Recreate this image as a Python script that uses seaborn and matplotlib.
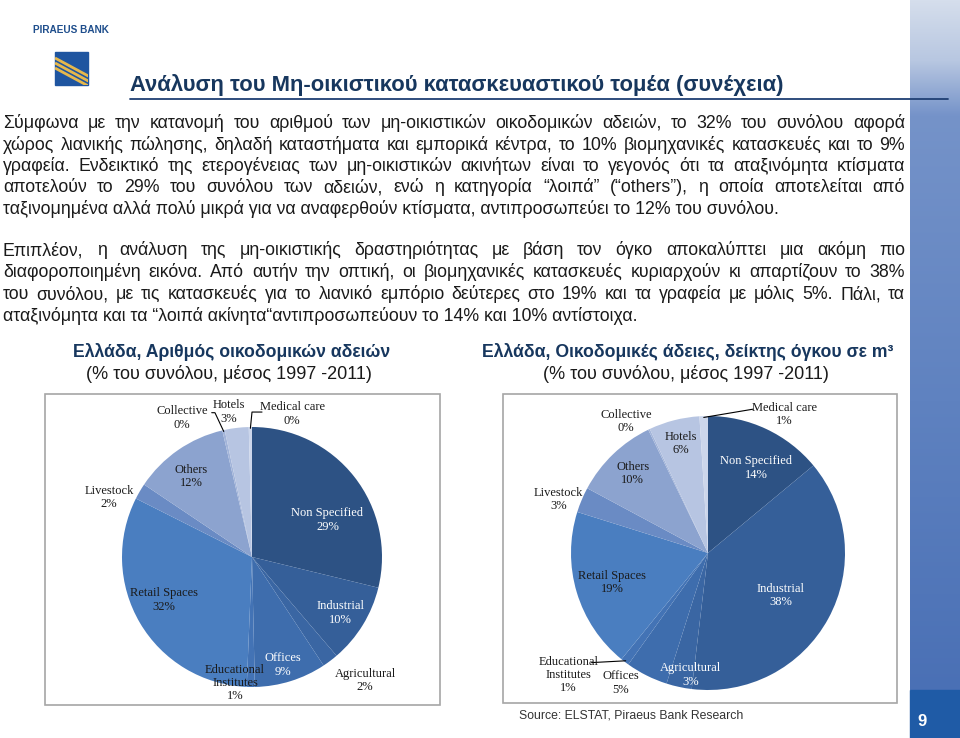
import numpy as np
import matplotlib
matplotlib.use("Agg")
import matplotlib.pyplot as plt
import matplotlib.colors as mcolors
from matplotlib.patches import Rectangle
import seaborn as sns

# ---- data ----
categories = ["Non Specified", "Industrial", "Agricultural", "Offices",
              "Educational\nInstitutes", "Retail Spaces", "Livestock",
              "Others", "Collective", "Hotels", "Medical care"]
permits_share = [29, 10, 2, 9, 1, 32, 2, 12, 0.3, 3, 0.4]   # number of permits, %
volume_share = [14, 38, 3, 5, 1, 19, 3, 10, 0.2, 6, 1]      # volume in m3, %

slice_colors = ["#2D5284", "#355F99", "#3A66A3", "#3E6DAD", "#4373B5",
                "#4A7EC0", "#6A8BC4", "#8CA3CF", "#A2B4D9", "#B7C5E2", "#CCD6EB"]

title = "Ανάλυση του Μη-οικιστικού κατασκευαστικού τομέα (συνέχεια)"
para1 = [
    "Σύμφωνα με την κατανομή του αριθμού των μη-οικιστικών οικοδομικών αδειών, το 32% του συνόλου αφορά",
    "χώρος λιανικής πώλησης, δηλαδή καταστήματα και εμπορικά κέντρα, το 10% βιομηχανικές κατασκευές και το 9%",
    "γραφεία. Ενδεικτικό της ετερογένειας των μη-οικιστικών ακινήτων είναι το γεγονός ότι τα αταξινόμητα κτίσματα",
    "αποτελούν το 29% του συνόλου των αδειών, ενώ η κατηγορία “λοιπά” (“others”), η οποία αποτελείται από",
    "ταξινομημένα αλλά πολύ μικρά για να αναφερθούν κτίσματα, αντιπροσωπεύει το 12% του συνόλου.",
]
para2 = [
    "Επιπλέον, η ανάλυση της μη-οικιστικής δραστηριότητας με βάση τον όγκο αποκαλύπτει μια ακόμη πιο",
    "διαφοροποιημένη εικόνα. Από αυτήν την οπτική, οι βιομηχανικές κατασκευές κυριαρχούν κι απαρτίζουν το 38%",
    "του συνόλου, με τις κατασκευές για το λιανικό εμπόριο δεύτερες στο 19% και τα γραφεία με μόλις 5%. Πάλι, τα",
    "αταξινόμητα και τα “λοιπά ακίνητα“αντιπροσωπεύουν το 14% και 10% αντίστοιχα.",
]
left_title = ["Ελλάδα, Αριθμός οικοδομικών αδειών", "(% του συνόλου, μέσος 1997 -2011)"]
right_title = ["Ελλάδα, Οικοδομικές άδειες, δείκτης όγκου σε m³", "(% του συνόλου, μέσος 1997 -2011)"]
source = "Source: ELSTAT, Piraeus Bank Research"

# label placement, in units of pie radius
left_label_pos = [(0.58, 0.285), (0.68, -0.43), (0.87, -0.95), (0.24, -0.83), (-0.13, -0.97),
                  (-0.68, -0.33), (-1.10, 0.46), (-0.47, 0.62), (-0.54, 1.07), (-0.18, 1.115),
                  (0.31, 1.10)]
left_white = [0, 1, 3]
left_leaders = {8: [(-0.285, 1.11), (-0.31, 1.11)], 10: [(0.0, 1.115), (0.077, 1.115)]}

right_label_pos = [(0.35, 0.62), (0.53, -0.31), (-0.13, -0.89), (-0.635, -0.95), (-1.02, -0.89),
                   (-0.70, -0.215), (-1.09, 0.39), (-0.55, 0.58), (-0.60, 0.96), (-0.20, 0.80),
                   (0.56, 1.01)]
right_white = [0, 1, 2]
right_leaders = {10: [(0.33, 1.05)], 4: [(-0.85, -0.80)]}

sns.set_theme(style="white")
plt.rcParams["font.family"] = ["Liberation Sans", "DejaVu Sans"]

W, H = 960, 738
fig = plt.figure(figsize=(W / 100, H / 100), dpi=100)
fig.patch.set_facecolor("white")
bg = fig.add_axes([0, 0, 1, 1])
bg.set_xlim(0, W)
bg.set_ylim(H, 0)
bg.axis("off")
renderer = fig.canvas.get_renderer()

navy = "#17375E"
body_col = "#1A1A1A"

# ---- right decorative strip ----
stops_y = [0, 60, 115, 400, 690]
stops_c = ["#D5DEEC", "#B8C7E1", "#7593C9", "#5F82C0", "#4A70B5"]
yy = np.arange(690)
rgb = np.array([mcolors.to_rgb(c) for c in stops_c])
grad = np.stack([np.interp(yy, stops_y, rgb[:, k]) for k in range(3)], axis=-1)[:, None, :]
bg.imshow(grad, extent=[910, 960, 690, 0], aspect="auto", zorder=0)
bg.add_patch(Rectangle((910, 690), 50, 48, color="#1F5BA6", zorder=1))
bg.text(922, 722, "9", color="white", fontsize=12, fontweight="bold", ha="center", va="center")
bg.set_xlim(0, W)
bg.set_ylim(H, 0)

# ---- logo and header ----
bg.text(71, 30, "PIRAEUS BANK", color="#1F4E8C", fontsize=7.2, fontweight="bold",
        ha="center", va="center")
logo = Rectangle((55, 52), 33, 33, color="#1F55A0", zorder=2)
bg.add_patch(logo)
for k in range(3):
    ln, = bg.plot([55, 92], [58 + 5 * k, 78 + 5 * k], color="#E6B84C", lw=2.0,
                  solid_capstyle="butt", zorder=3)
    ln.set_clip_path(logo)

bg.text(130, 91, title, color=navy, fontsize=15.8, fontweight="bold", ha="left", va="baseline")
bg.plot([130, 948], [99, 99], color="#1F3F73", lw=1.3)


# ---- justified body text ----
def fit_size(line, target):
    t = bg.text(0, 0, line, fontsize=10)
    w = t.get_window_extent(renderer).width
    t.remove()
    return 10 * target / w


body_size = fit_size(para2[-1], 637)


def justified(lines, y0, step, x0=3, x1=905):
    for i, line in enumerate(lines):
        y = y0 + i * step
        if i == len(lines) - 1:
            bg.text(x0, y, line, fontsize=body_size, color=body_col, va="baseline")
            continue
        words = line.split(" ")
        arts = [bg.text(0, y, w, fontsize=body_size, color=body_col, va="baseline") for w in words]
        widths = [a.get_window_extent(renderer).width for a in arts]
        gap = (x1 - x0 - sum(widths)) / (len(words) - 1)
        x = x0
        for a, w in zip(arts, widths):
            a.set_x(x)
            x += w + gap


justified(para1, 128, 21.5)
justified(para2, 255, 22)

# ---- chart headings ----
bg.text(232, 352, left_title[0], color=navy, fontsize=12.7, fontweight="bold", ha="center", va="center")
bg.text(229, 374, left_title[1], color=body_col, fontsize=13, ha="center", va="center")
bg.text(688, 352, right_title[0], color=navy, fontsize=12.7, fontweight="bold", ha="center", va="center")
bg.text(686, 374, right_title[1], color=body_col, fontsize=13, ha="center", va="center")

# chart frames
for (x0, y0, x1, y1) in [(45, 394, 440, 705), (503, 394, 897, 703)]:
    bg.add_patch(Rectangle((x0, y0), x1 - x0, y1 - y0, fill=False, ec="#A6A6A6", lw=1.2))

bg.text(519, 716, source, color="#333333", fontsize=8.8, ha="left", va="center")


# ---- pies ----
def draw_pie(cx, cy, r, values, label_pos, white, leaders):
    s = 1.6 * r
    ax = fig.add_axes([(cx - s) / W, (H - cy - s) / H, 2 * s / W, 2 * s / H])
    wedges, _ = ax.pie(values, colors=slice_colors, startangle=90, counterclock=False,
                       radius=1, wedgeprops=dict(linewidth=0))
    ax.set_xlim(-1.6, 1.6)
    ax.set_ylim(-1.6, 1.6)
    ax.set_aspect("equal")
    ax.axis("off")
    for i, (name, v) in enumerate(zip(categories, values)):
        dx, dy = label_pos[i]
        ax.text(dx, dy, f"{name}\n{round(v)}%", ha="center", va="center", fontsize=9,
                family="Liberation Serif", linespacing=1.15,
                color="white" if i in white else body_col)
    for i, pts in leaders.items():
        w = wedges[i]
        ang = np.deg2rad((w.theta1 + w.theta2) / 2)
        xs = [0.99 * np.cos(ang)] + [p[0] for p in pts]
        ys = [0.99 * np.sin(ang)] + [p[1] for p in pts]
        ax.plot(xs, ys, color="black", lw=0.8)


draw_pie(252, 557, 130, permits_share, left_label_pos, left_white, left_leaders)
draw_pie(708, 553, 137, volume_share, right_label_pos, right_white, right_leaders)

fig.savefig("out.png", dpi=100)
